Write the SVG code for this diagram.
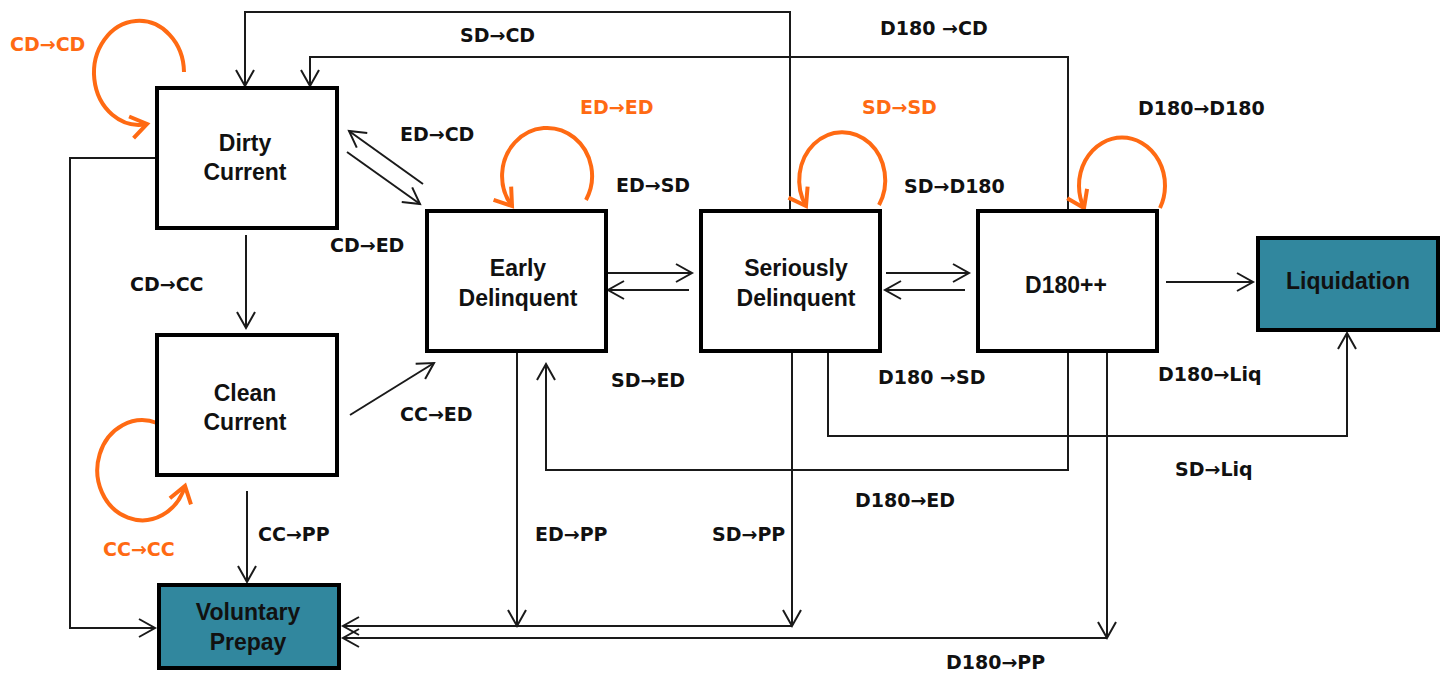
<svg xmlns="http://www.w3.org/2000/svg" width="1444" height="673" viewBox="0 0 1444 673">
<style>
.box{fill:#ffffff;stroke:#000;stroke-width:4}
.term{fill:#31879e;stroke:#000;stroke-width:4}
.nt{font-family:"Liberation Sans",Arial,sans-serif;font-weight:bold;font-size:23px;fill:#111;text-anchor:middle}
.lb{font-family:"DejaVu Sans","Liberation Sans",sans-serif;font-weight:bold;font-size:19px;fill:#111}
.or{fill:#ff6a13}
.ln{fill:none;stroke:#1a1a1a;stroke-width:2;marker-end:url(#ah)}
.lp{fill:none;stroke:#ff6a13;stroke-width:4;marker-end:url(#oh)}
</style>
<defs>
<marker id="ah" markerUnits="userSpaceOnUse" markerWidth="22" markerHeight="22" viewBox="0 0 22 22" refX="19" refY="11" orient="auto">
<path d="M3,2 L19,11 L3,20" fill="none" stroke="#1a1a1a" stroke-width="2"/>
</marker>
<marker id="oh" markerUnits="userSpaceOnUse" markerWidth="26" markerHeight="26" viewBox="0 0 26 26" refX="20" refY="13" orient="auto">
<path d="M4,2 L20,13 L4,24" fill="none" stroke="#ff6a13" stroke-width="4"/>
</marker>
</defs>
<rect width="1444" height="673" fill="#ffffff"/>
<g id="connectors">
<path class="ln" d="M790,211 V12 H245 V86"/>
<path class="ln" d="M1068,211 V57 H310 V86"/>
<path class="ln" d="M423,184 L349,131"/>
<path class="ln" d="M347,152 L420,204"/>
<path class="ln" d="M246,235 V328"/>
<path class="ln" d="M350,415 L434,363"/>
<path class="ln" d="M156,158 H70 V628 H155"/>
<path class="ln" d="M247,491 V582"/>
<path class="ln" d="M517,351 V626"/>
<path class="ln" d="M792,351 V626"/>
<path class="ln" d="M792,626 H343"/>
<path class="ln" d="M1107,351 V638"/>
<path class="ln" d="M1107,638 H343"/>
<path class="ln" d="M1068,351 V470 H546 V364"/>
<path class="ln" d="M828,351 V436 H1347 V333"/>
<path class="ln" d="M1166,282 H1253"/>
<path class="ln" d="M608,273 H692"/>
<path class="ln" d="M689,290 H608"/>
<path class="ln" d="M886,273 H969"/>
<path class="ln" d="M965,290 H885"/>
<path class="lp" d="M184,72 A45,52 0 1 0 147,124"/>
<path class="lp" d="M586,200 A45,48 0 1 0 512,206"/>
<path class="lp" d="M879,205 A43,48 0 1 0 806,206"/>
<path class="lp" d="M1160,208 A43,48 0 1 0 1084,208"/>
<path class="lp" d="M157,423 A45,50 0 1 0 185,486"/>
</g>
<g id="labels">
<text class="lb or" x="10" y="51">CD→CD</text>
<text class="lb" x="460" y="42">SD→CD</text>
<text class="lb" x="880" y="35">D180 →CD</text>
<text class="lb or" x="580" y="114">ED→ED</text>
<text class="lb or" x="862" y="114">SD→SD</text>
<text class="lb" x="1138" y="115">D180→D180</text>
<text class="lb" x="400" y="141">ED→CD</text>
<text class="lb" x="616" y="192">ED→SD</text>
<text class="lb" x="904" y="193">SD→D180</text>
<text class="lb" x="330" y="252">CD→ED</text>
<text class="lb" x="130" y="291">CD→CC</text>
<text class="lb" x="400" y="421">CC→ED</text>
<text class="lb" x="611" y="387">SD→ED</text>
<text class="lb" x="878" y="384">D180 →SD</text>
<text class="lb" x="1158" y="381">D180→Liq</text>
<text class="lb" x="1175" y="476">SD→Liq</text>
<text class="lb" x="855" y="507">D180→ED</text>
<text class="lb" x="535" y="541">ED→PP</text>
<text class="lb" x="712" y="541">SD→PP</text>
<text class="lb" x="258" y="541">CC→PP</text>
<text class="lb or" x="103" y="556">CC→CC</text>
<text class="lb" x="946" y="669">D180→PP</text>
</g>
<g id="dirty-current">
<rect class="box" x="157" y="88" width="180" height="140"/>
<text class="nt" x="245" y="151">Dirty</text>
<text class="nt" x="245" y="180">Current</text>
</g>
<g id="clean-current">
<rect class="box" x="157" y="335" width="180" height="140"/>
<text class="nt" x="245" y="401">Clean</text>
<text class="nt" x="245" y="430">Current</text>
</g>
<g id="voluntary-prepay">
<rect class="term" x="159" y="585" width="180" height="83"/>
<text class="nt" x="248" y="620">Voluntary</text>
<text class="nt" x="248" y="650">Prepay</text>
</g>
<g id="early-delinquent">
<rect class="box" x="427" y="211" width="179" height="140"/>
<text class="nt" x="518" y="276">Early</text>
<text class="nt" x="518" y="306">Delinquent</text>
</g>
<g id="seriously-delinquent">
<rect class="box" x="701" y="211" width="179" height="140"/>
<text class="nt" x="796" y="276">Seriously</text>
<text class="nt" x="796" y="306">Delinquent</text>
</g>
<g id="d180">
<rect class="box" x="978" y="211" width="179" height="140"/>
<text class="nt" x="1066" y="293">D180++</text>
</g>
<g id="liquidation">
<rect class="term" x="1258" y="238" width="180" height="92"/>
<text class="nt" x="1348" y="289">Liquidation</text>
</g>
</svg>
